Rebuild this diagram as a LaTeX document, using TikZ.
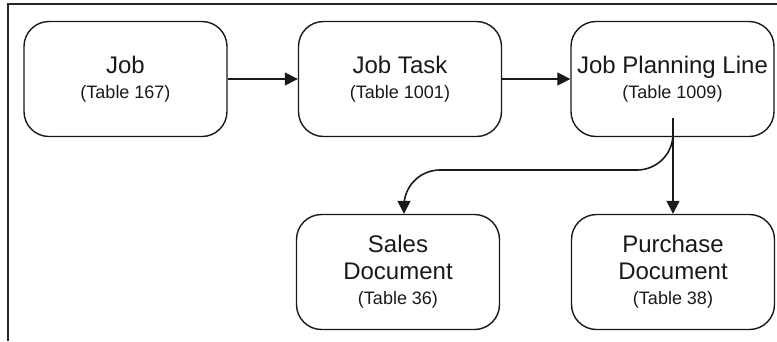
\documentclass[tikz,border=0pt]{standalone}
\usepackage{fontspec}
\setmainfont{Liberation Sans}
\usetikzlibrary{arrows.meta}

\newcommand{\ttlf}{\fontsize{24}{27}\selectfont}
\newcommand{\subf}{\fontsize{18}{22}\selectfont}

\tikzset{
  tbl/.style={draw=black!90, line width=1.4pt, rounded corners=25pt,
    minimum width=203pt, minimum height=115pt, align=center, inner sep=0pt,
    font=\ttlf, text=black!90},
  link/.style={draw=black!90, line width=1.6pt,
    -{Triangle[length=13pt,width=13pt]}},
  frame/.style={draw=black!85, line width=2pt}
}

\begin{document}
\begin{tikzpicture}[x=1pt, y=-1pt]
  \useasboundingbox (0,0) rectangle (777,341);

  % outer frame (left and top edges only)
  \draw[frame] (8,341) -- (8,4) -- (777,4);

  % tables
  \node[tbl] (job)   at (125.5,79) {Job\\[-2pt]{\subf (Table 167)}};
  \node[tbl] (task)  at (400,79)   {Job Task\\[-2pt]{\subf (Table 1001)}};
  \node[tbl] (jpl)   at (672.5,79) {Job Planning Line\\[-2pt]{\subf (Table 1009)}};
  \node[tbl] (sales) at (398,272)  {Sales\\Document\\[-2pt]{\subf (Table 36)}};
  \node[tbl] (purch) at (673,272)  {Purchase\\Document\\[-2pt]{\subf (Table 38)}};

  % relations
  \draw[link] (job.east) -- (task.west);
  \draw[link] (task.east) -- (jpl.west);

  \coordinate (spl)  at (673,118);
  \coordinate (bend) at (404,170);
  \draw[link] (spl) -- (spl |- purch.north);
  \draw[link, rounded corners=36pt] (spl) |- (bend) -- (bend |- sales.north);
\end{tikzpicture}
\end{document}
